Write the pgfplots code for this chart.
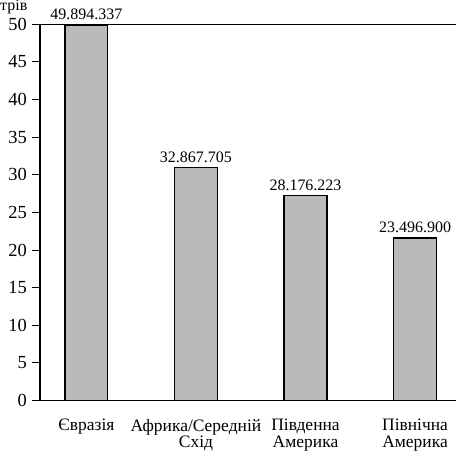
\documentclass[border=0pt]{standalone}
\usepackage{pgfplots}
\pgfplotsset{compat=1.18}
\usepackage{pgfplotstable}
\usepackage{fontspec}
\setmainfont{Liberation Serif}
\pgfplotstableread{
x y label
0 49.9 49.894.337
1 31.0 32.867.705
2 27.2 28.176.223
3 21.6 23.496.900
}\datatable
\begin{document}
\begin{tikzpicture}
\begin{axis}[
  scale only axis,
  width=417pt, height=377pt,
  xmin=-0.424, xmax=3.377,
  ymin=0, ymax=50,
  axis x line=bottom, axis y line=left,
  axis line style={line width=1.3pt, -},
  clip=false,
  ybar, bar width=43pt,
  xtick=data,
  xticklabels={Євразія, {Африка/Середній\\Схід}, {Південна\\Америка}, {Північна\\Америка}},
  xtick style={draw=none},
  xticklabel style={align=center, font={\fontsize{17.5}{16.5}\selectfont}, yshift=-7pt},
  ytick={0,5,...,50},
  ytick style={line width=1pt, black},
  tick align=outside,
  major tick length=8pt,
  yticklabel style={font={\fontsize{18.5}{18.5}\selectfont}, inner sep=1pt, xshift=-4pt},
  /pgf/number format/assume math mode=true,
  nodes near coords,
  point meta=explicit symbolic,
  every node near coord/.append style={font={\fontsize{16}{16}\selectfont}, yshift=1pt},
]
\addplot[fill=black!27, draw=black, line width=1.2pt] table[x=x, y=y, meta=label] {\datatable};
\draw[line width=1.3pt] (rel axis cs:0,1) -- (rel axis cs:1,1);
\end{axis}
\node[anchor=south west, inner sep=0pt, font={\fontsize{16}{16}\selectfont}] at (-40pt,387pt) {трів};
\path (-40pt,401pt);
\end{tikzpicture}
\end{document}
